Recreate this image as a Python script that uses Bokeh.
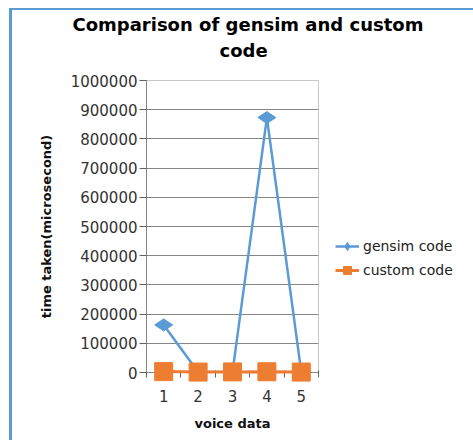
from bokeh.plotting import figure
from bokeh.models import (ColumnDataSource, Range1d, FixedTicker, Title, Legend,
                          LegendItem)
from bokeh.embed import file_html
from bokeh.resources import INLINE
import math

# ---- data ----
voice_data = [1, 2, 3, 4, 5]
tick_labels = ["1", "2", "3", "4", "5"]
gensim_code = [163000, 2000, 1500, 873000, 1000]
custom_code = [3000, 1500, 2000, 2500, 1500]
y_ticks = [0, 100000, 200000, 300000, 400000, 500000, 600000, 700000, 800000, 900000, 1000000]

FONT = "DejaVu Sans"
BLUE = "#5B9BD5"
ORANGE = "#ED7D31"

p = figure(frame_width=172, frame_height=292,
           min_border_left=134, min_border_right=150,
           min_border_top=70, min_border_bottom=68,
           x_range=Range1d(0.5, 5.5), y_range=Range1d(0, 1000000),
           output_backend="svg", toolbar_location=None, title=None)

p.styles = {"margin-left": "9px", "margin-top": "8px",
            "border-left": "3px solid #5B9BD5", "border-top": "2px solid #5B9BD5"}

src = ColumnDataSource(dict(x=voice_data, g=gensim_code, c=custom_code))

gl = p.line("x", "g", source=src, line_color=BLUE, line_width=2.5)
gs = p.scatter("x", "g", source=src, marker="diamond", angle=math.pi / 2,
               size=18, fill_color=BLUE, line_color=BLUE, level="overlay")
cl = p.line("x", "c", source=src, line_color=ORANGE, line_width=3, level="overlay")
cs = p.scatter("x", "c", source=src, marker="square", size=18,
               fill_color=ORANGE, line_color=ORANGE, level="overlay")

legend = Legend(items=[LegendItem(label="gensim code", renderers=[gl, gs]),
                       LegendItem(label="custom code", renderers=[cl, cs])],
                location=(17, 92), border_line_color=None,
                background_fill_alpha=0, label_text_font=FONT,
                label_text_font_size="14px", label_text_color="#222222",
                glyph_width=24, glyph_height=20, spacing=4, padding=0,
                label_standoff=4, margin=0)
p.add_layout(legend, "right")

# titles (spacer nearest the frame, then the two title lines)
p.add_layout(Title(text=" ", text_font_size="1px", standoff=14), "above")
p.add_layout(Title(text="code", align="left", text_font=FONT,
                   text_font_size="18px", text_font_style="bold",
                   text_color="#000000", offset=73, standoff=6), "above")
p.add_layout(Title(text="Comparison of gensim and custom", align="left",
                   text_font=FONT, text_font_size="18px",
                   text_font_style="bold", text_color="#000000",
                   offset=-74, standoff=0), "above")

# axes
p.xaxis.ticker = FixedTicker(ticks=voice_data,
                             minor_ticks=[0.5, 1.5, 2.5, 3.5, 4.5, 5.5])
p.xaxis.major_label_overrides = {v: t for v, t in zip(voice_data, tick_labels)}
p.xaxis.major_tick_out = 0
p.xaxis.major_tick_in = 0
p.xaxis.minor_tick_out = 5
p.xaxis.minor_tick_in = 2
p.xaxis.minor_tick_line_color = "#606060"
p.xaxis.axis_line_color = "#868686"
p.xaxis.major_label_standoff = 12
p.xaxis.axis_label = "voice data"
p.xaxis.axis_label_standoff = 11

p.yaxis.ticker = FixedTicker(ticks=y_ticks)
p.yaxis.formatter.use_scientific = False
p.yaxis.major_tick_out = 7
p.yaxis.major_tick_in = 0
p.yaxis.minor_tick_line_color = None
p.yaxis.major_tick_line_color = "#606060"
p.yaxis.axis_line_color = "#868686"
p.yaxis.major_label_standoff = 2
p.yaxis.axis_label = "time taken(microsecond)"
p.yaxis.axis_label_standoff = 14

for ax in (p.xaxis, p.yaxis):
    ax.major_label_text_font = FONT
    ax.major_label_text_font_size = "15px"
    ax.major_label_text_color = "#333333"
    ax.axis_label_text_font = FONT
    ax.axis_label_text_font_size = "13px"
    ax.axis_label_text_font_style = "bold"
    ax.axis_label_text_color = "#111111"
    ax.axis_line_width = 1

p.xgrid.grid_line_color = None
p.ygrid.grid_line_color = "#868686"
p.ygrid.grid_line_width = 1
p.outline_line_color = "#c8c8c8"

open("out.html", "w").write(file_html(p, INLINE))
